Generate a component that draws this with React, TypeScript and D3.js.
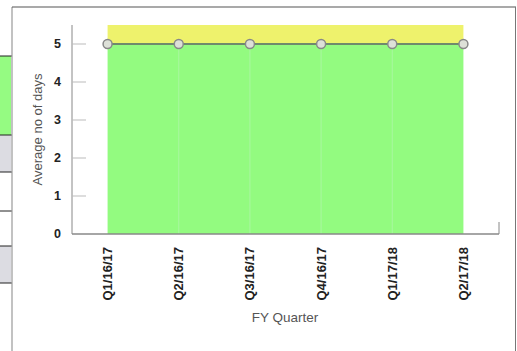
import React from "react";
import * as d3 from "d3";

const categories = ["Q1/16/17", "Q2/16/17", "Q3/16/17", "Q4/16/17", "Q1/17/18", "Q2/17/18"];
const averageDays = [5, 5, 5, 5, 5, 5];
const upperBand = [5.5, 5.5, 5.5, 5.5, 5.5, 5.5];
const yTicks = [0, 1, 2, 3, 4, 5];

const W = 517;
const H = 351;

export default function App() {
  const x = d3.scalePoint<string>().domain(categories).range([72, 499]).padding(0.5);
  const y = d3.scaleLinear().domain([0, 5.5]).range([234, 25]);

  const data = categories.map((c, i) => ({ c, v: averageDays[i], u: upperBand[i] }));

  const greenArea = d3
    .area<(typeof data)[number]>()
    .x((d) => x(d.c) as number)
    .y0(y(0))
    .y1((d) => y(d.v))(data) as string;
  const yellowArea = d3
    .area<(typeof data)[number]>()
    .x((d) => x(d.c) as number)
    .y0((d) => y(d.v))
    .y1((d) => y(d.u))(data) as string;
  const line = d3
    .line<(typeof data)[number]>()
    .x((d) => x(d.c) as number)
    .y((d) => y(d.v))(data) as string;

  const font = "'Liberation Sans', Arial, sans-serif";

  return (
    <div style={{ position: "absolute", left: 0, top: 0 }}>
      <svg width={W} height={H} style={{ display: "block", fontFamily: font }}>
        <rect x={0} y={0} width={W} height={H} fill="#fff" />
        {/* left table fragment */}
        <rect x={0} y={56} width={11} height={79} fill="#95fb82" />
        <rect x={0} y={135} width={11} height={37} fill="#dcdce2" />
        <rect x={0} y={246} width={11} height={37} fill="#dcdce2" />
        {[56, 135, 172, 211, 246, 283].map((yy) => (
          <line key={yy} x1={0} x2={12} y1={yy} y2={yy} stroke="#222" strokeWidth={1} />
        ))}
        {/* frame */}
        <line x1={12} x2={12} y1={7} y2={H} stroke="#999" strokeWidth={1.2} />
        <line x1={12} x2={516} y1={7} y2={7} stroke="#555" strokeWidth={1.2} />
        <line x1={515.5} x2={515.5} y1={7} y2={H} stroke="#777" strokeWidth={1} />

        {/* areas */}
        <path d={yellowArea} fill="#eef26c" />
        <path d={greenArea} fill="#93fb80" />
        {categories.slice(1, -1).map((c) => (
          <line key={c} x1={x(c)} x2={x(c)} y1={y(5)} y2={y(0)} stroke="#a9f7a0" strokeWidth={1} />
        ))}

        {/* axes */}
        <line x1={72} x2={72} y1={25} y2={234} stroke="#888" strokeWidth={1} />
        {yTicks.slice(1).map((t) => (
          <line key={t} x1={72} x2={86} y1={y(t)} y2={y(t)} stroke="#bbb" strokeWidth={1} />
        ))}
        <line x1={72} x2={499} y1={234} y2={234} stroke="#888" strokeWidth={1.5} />
        <line x1={499} x2={499} y1={222} y2={234} stroke="#888" strokeWidth={1} />
        {yTicks.map((t) => (
          <text
            key={t}
            x={61}
            y={y(t)}
            dy="0.35em"
            textAnchor="end"
            fontSize={12.5}
            fontWeight="bold"
            fill="#222"
          >
            {t}
          </text>
        ))}
        <text
          transform={`translate(37,${y(2.75)}) rotate(-90)`}
          textAnchor="middle"
          fontSize={13}
          fill="#555"
          dy="0.35em"
        >
          Average no of days
        </text>

        {categories.map((c) => (
          <text
            key={c}
            transform={`translate(${x(c)},247) rotate(-90)`}
            textAnchor="end"
            dy="0.35em"
            fontSize={13}
            fontWeight="bold"
            fill="#222"
          >
            {c}
          </text>
        ))}
        <text x={285} y={317} textAnchor="middle" dy="0.35em" fontSize={13.5} fill="#555">
          FY Quarter
        </text>

        {/* line + markers */}
        <path d={line} fill="none" stroke="#6f8a6c" strokeWidth={2} />
        {data.map((d) => (
          <circle
            key={d.c}
            cx={x(d.c)}
            cy={y(d.v)}
            r={4.5}
            fill="#dde0d8"
            stroke="#888"
            strokeWidth={1.5}
          />
        ))}
      </svg>
    </div>
  );
}
